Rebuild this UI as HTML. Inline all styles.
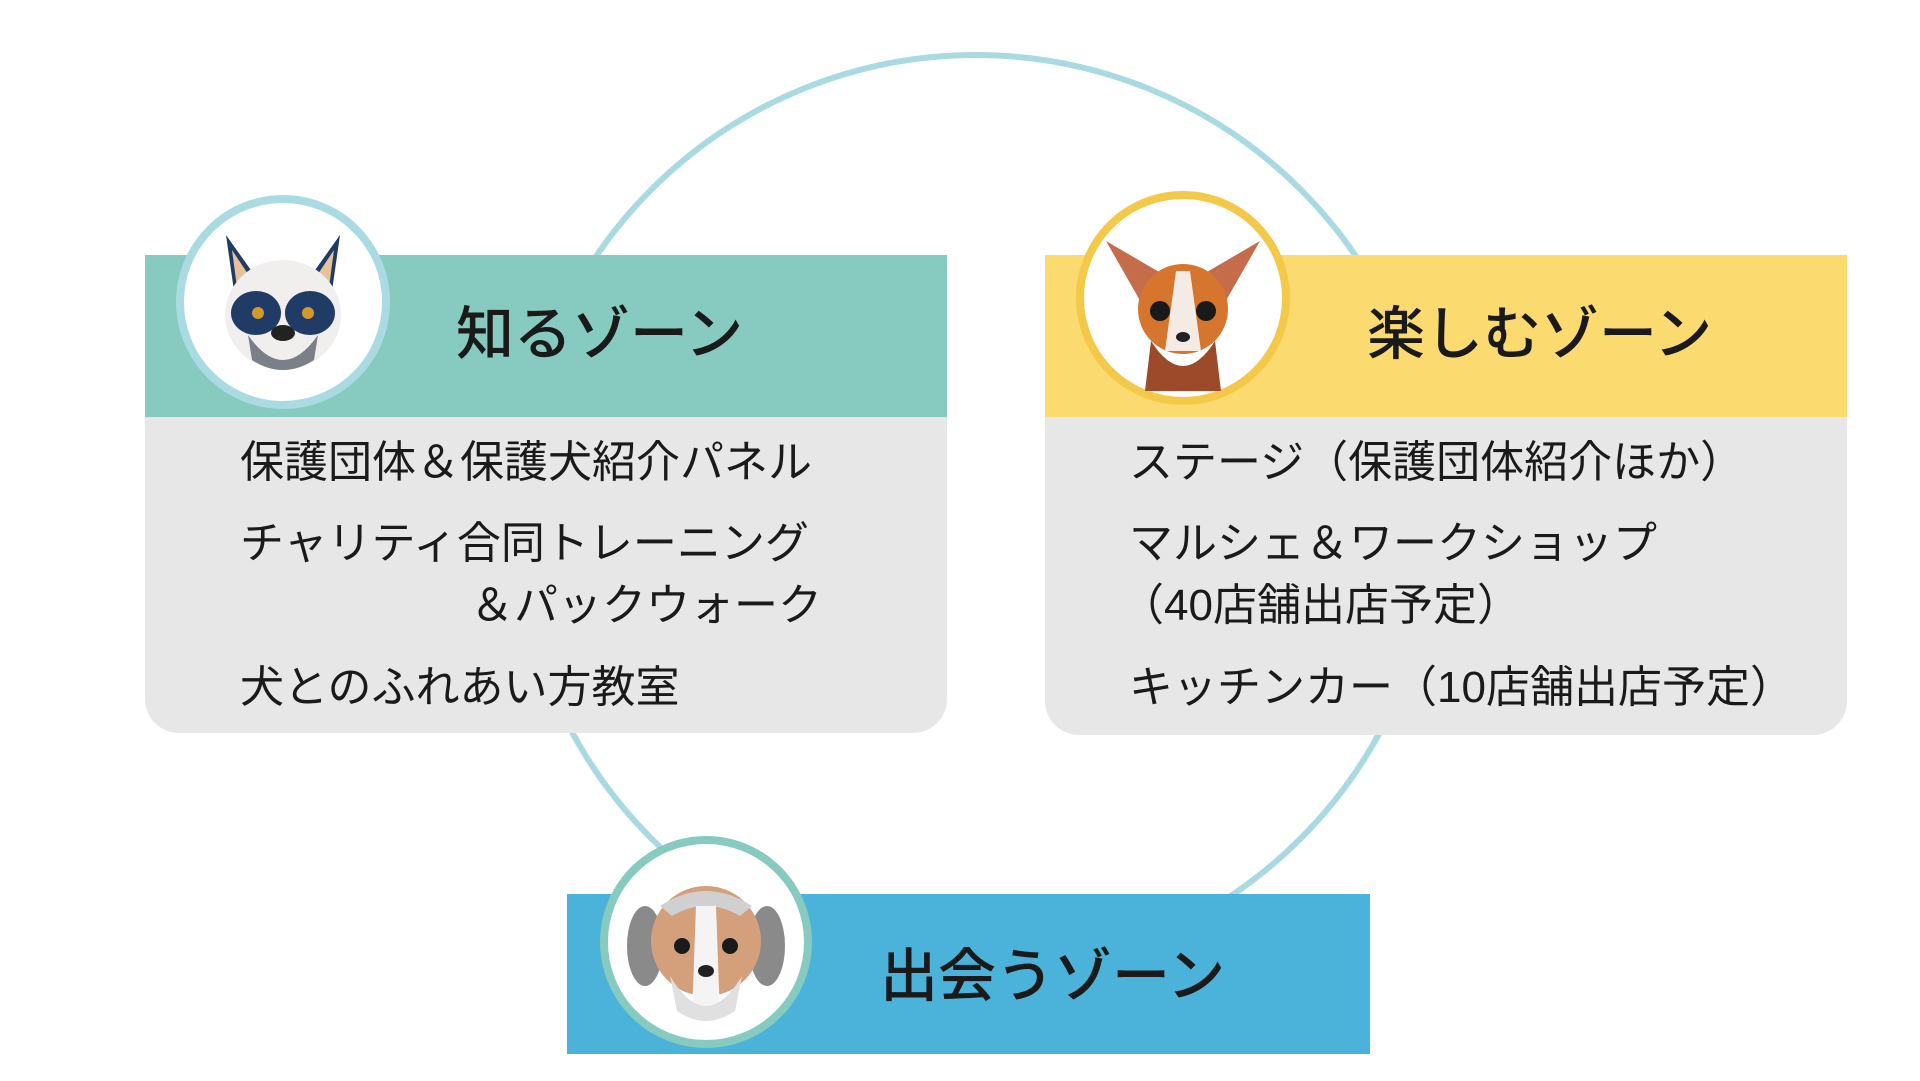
<!DOCTYPE html>
<html><head><meta charset="utf-8"><style>
body{margin:0;width:1920px;height:1081px;background:#fff;position:relative;overflow:hidden;font-family:"Liberation Sans","Noto Sans CJK JP",sans-serif;color:#1a1a1a}
.a{position:absolute}
.hd{position:absolute;height:162px}
.bd{position:absolute;background:#e8e7e8;border-radius:0 0 34px 34px}
.t{position:absolute;font-size:58px;font-weight:500;white-space:nowrap;line-height:1}
.i{position:absolute;font-size:44px;white-space:nowrap;line-height:1;letter-spacing:0px}
.c{position:absolute;border-radius:50%;background:#fff;box-sizing:border-box}
</style></head><body>
<svg class="a" style="left:0;top:0" width="1920" height="1081"><circle cx="976" cy="514" r="459" fill="none" stroke="#a9d9e1" stroke-width="6"/></svg>

<div class="bd" style="left:145px;top:417px;width:802px;height:316px"></div>
<div class="hd" style="left:145px;top:255px;width:802px;background:#86cac0"></div>
<div class="bd" style="left:1045px;top:417px;width:802px;height:318px"></div>
<div class="hd" style="left:1045px;top:255px;width:802px;background:#fbdb6f"></div>
<div class="hd" style="left:567px;top:894px;width:803px;height:160px;background:#4bb2d9"></div>

<div class="t" style="left:456px;top:306px">知るゾーン</div>
<div class="t" style="left:1367px;top:306px">楽しむゾーン</div>
<div class="t" style="left:880px;top:948px">出会うゾーン</div>

<div class="i" style="left:240px;top:441px">保護団体＆保護犬紹介パネル</div>
<div class="i" style="left:240px;top:522px">チャリティ合同トレーニング</div>
<div class="i" style="left:470px;top:584px">＆パックウォーク</div>
<div class="i" style="left:240px;top:666px">犬とのふれあい方教室</div>
<div class="i" style="left:1129px;top:441px">ステージ（保護団体紹介ほか）</div>
<div class="i" style="left:1129px;top:522px">マルシェ＆ワークショップ</div>
<div class="i" style="left:1120px;top:584px">（40店舗出店予定）</div>
<div class="i" style="left:1129px;top:666px">キッチンカー（10店舗出店予定）</div>

<div class="c" style="left:176px;top:195px;width:214px;height:214px;border:8px solid #aadbe3"></div>
<div class="c" style="left:1076px;top:191px;width:214px;height:214px;border:8px solid #f4c94a"></div>
<div class="c" style="left:600px;top:836px;width:212px;height:212px;border:8px solid #86cac0"></div>

<svg class="a" style="left:176px;top:195px" width="214" height="214" viewBox="0 0 214 214">
<path d="M50 40 L82 85 L60 110Z" fill="#1f3b66"/><path d="M164 40 L132 85 L154 110Z" fill="#1f3b66"/>
<path d="M56 55 L76 85 L62 100Z" fill="#e5c29c"/><path d="M158 55 L138 85 L152 100Z" fill="#e5c29c"/>
<ellipse cx="107" cy="120" rx="58" ry="55" fill="#f1eeee"/>
<ellipse cx="80" cy="118" rx="25" ry="22" fill="#1f3b66"/><ellipse cx="134" cy="118" rx="25" ry="22" fill="#1f3b66"/>
<circle cx="82" cy="118" r="6" fill="#d39a2a"/><circle cx="132" cy="118" r="6" fill="#d39a2a"/>
<path d="M72 140 Q107 190 142 140 L138 165 Q107 185 76 165Z" fill="#7a7f88"/>
<ellipse cx="107" cy="138" rx="12" ry="8" fill="#222"/></svg>

<svg class="a" style="left:1076px;top:191px" width="214" height="214" viewBox="0 0 214 214">
<path d="M30 50 L90 85 L70 120Z" fill="#c56d4b"/><path d="M184 50 L124 85 L144 120Z" fill="#c56d4b"/>
<path d="M75 150 Q107 200 139 150 L145 200 L69 200Z" fill="#9c4a2a"/>
<ellipse cx="107" cy="118" rx="45" ry="45" fill="#d5752e"/>
<path d="M100 80 L114 80 L125 160 L89 160Z" fill="#f4ece4"/>
<circle cx="84" cy="120" r="10" fill="#1a1a1a"/><circle cx="130" cy="120" r="10" fill="#1a1a1a"/>
<ellipse cx="107" cy="146" rx="7" ry="5" fill="#222"/></svg>

<svg class="a" style="left:600px;top:836px" width="212" height="212" viewBox="0 0 212 212">
<ellipse cx="45" cy="110" rx="18" ry="40" fill="#8a8a8a"/><ellipse cx="167" cy="110" rx="18" ry="40" fill="#8a8a8a"/>
<ellipse cx="106" cy="105" rx="55" ry="55" fill="#d4a07c"/>
<path d="M60 70 Q106 40 152 70 L140 80 Q106 60 72 80Z" fill="#d0d0d0"/>
<path d="M96 70 L116 70 L120 180 L92 180Z" fill="#f4f4f4"/>
<path d="M70 140 Q106 200 142 140 L135 175 Q106 195 77 175Z" fill="#e0e0e0"/>
<circle cx="82" cy="110" r="8" fill="#1a1a1a"/><circle cx="130" cy="110" r="8" fill="#1a1a1a"/>
<ellipse cx="106" cy="135" rx="8" ry="6" fill="#222"/></svg>
</body></html>
